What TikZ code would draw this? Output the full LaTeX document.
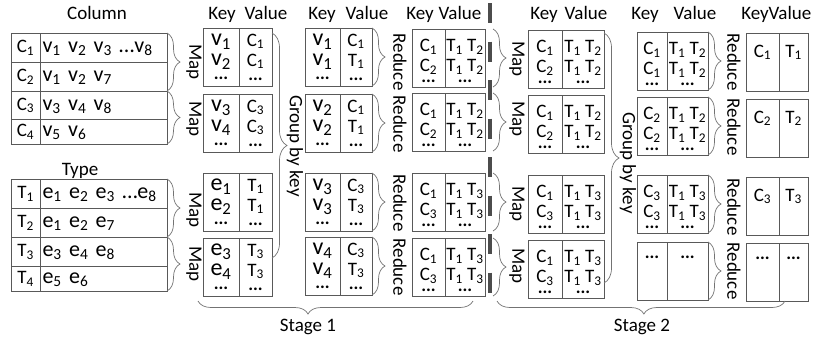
\documentclass[tikz,border=0pt]{standalone}
\usepackage{fontspec}
\setmainfont{Carlito}
\usetikzlibrary{positioning,decorations.pathreplacing}

\newcommand{\sbs}[1]{\textsubscript{#1}}
\newcommand{\dts}{{\fontsize{18}{15}\selectfont\textbf{...}}}
\newcommand{\topgap}{\rule{0pt}{19pt}}

\tikzset{
  cell/.style={draw=black!65, line width=0.9pt, inner sep=0pt, outer sep=0pt, minimum height=58pt, align=center},
  kcell/.style={cell, minimum width=#1, anchor=north west},
  vcell/.style={cell, minimum width=#1},
  big/.style={font=\fontsize{24}{20}\selectfont},
  topcell/.style 2 args={text height=#1, text depth=#2},
  tname/.style={draw=black!65, line width=0.9pt, inner sep=0pt, outer sep=0pt, minimum width=29pt, text height=14pt, text depth=4pt},
  tval/.style={tname, minimum width=0pt, text width=122pt, inner xsep=2.5pt, align=left, font=\fontsize{22}{22}\selectfont},
  brc/.style={decorate, decoration={brace, amplitude=13pt}, draw=black!55, line width=0.7pt},
  gbrc/.style={brc, decoration={amplitude=15pt}},
  sbrc/.style={brc, decoration={aspect=#1}},
  lbl/.style={rotate=-90},
  hdr/.style={anchor=base},
  sep/.style={draw=black!70, line width=3.3pt, dash pattern=on 20pt off 18.5pt},
}

\begin{document}
\begin{tikzpicture}[x=1pt, y=-1pt, font=\fontsize{19}{20}\selectfont]
  \useasboundingbox (0,0) rectangle (840,341);

  % input tables
  \node[hdr] (colhdr) at (97,19) {Column};
  \node[tname, minimum height=29pt, anchor=north west] (col1) at (11,33) {C\sbs1};
  \node[tval, minimum height=29pt, right=0pt of col1] (col1v) {\mbox{v\sbs1 v\sbs2 v\sbs3 \textellipsis v\sbs8}};
  \node[tname, minimum height=29pt, below=0pt of col1] (col2) {C\sbs2};
  \node[tval, minimum height=29pt, right=0pt of col2] (col2v) {v\sbs1 v\sbs2 v\sbs7};
  \node[tname, minimum height=28pt, below=0pt of col2] (col3) {C\sbs3};
  \node[tval, minimum height=28pt, right=0pt of col3] (col3v) {v\sbs3 v\sbs4 v\sbs8};
  \node[tname, minimum height=25pt, below=0pt of col3] (col4) {C\sbs4};
  \node[tval, minimum height=25pt, right=0pt of col4] (col4v) {v\sbs5 v\sbs6};

  \node[hdr] (typhdr) at (80,175) {Type};
  \node[tname, minimum height=29pt, anchor=north west] (typ1) at (11,179) {T\sbs1};
  \node[tval, minimum height=29pt, right=0pt of typ1] (typ1v) {\mbox{e\sbs1 e\sbs2 e\sbs3 \textellipsis e\sbs8}};
  \node[tname, minimum height=29pt, below=0pt of typ1] (typ2) {T\sbs2};
  \node[tval, minimum height=29pt, right=0pt of typ2] (typ2v) {e\sbs1 e\sbs2 e\sbs7};
  \node[tname, minimum height=29pt, below=0pt of typ2] (typ3) {T\sbs3};
  \node[tval, minimum height=29pt, right=0pt of typ3] (typ3v) {e\sbs3 e\sbs4 e\sbs8};
  \node[tname, minimum height=25pt, below=0pt of typ3] (typ4) {T\sbs4};
  \node[tval, minimum height=25pt, right=0pt of typ4] (typ4v) {e\sbs5 e\sbs6};

  % stage 1
  \node[hdr] (akey) at (222,19) {Key};
  \node[hdr] (aval) at (266,19) {Value};
  \node[kcell=36pt, big] (a1k) at (203,28) {v\sbs1\\v\sbs2\\[-6pt]\dts};
  \node[vcell=33pt, right=0pt of a1k] (a1v) {C\sbs1\\C\sbs1\\[-6pt]\dts};
  \node[kcell=36pt, big] (a2k) at (203,94) {v\sbs3\\v\sbs4\\[-6pt]\dts};
  \node[vcell=33pt, right=0pt of a2k] (a2v) {C\sbs3\\C\sbs3\\[-6pt]\dts};
  \node[kcell=36pt, big] (a3k) at (203,173) {e\sbs1\\e\sbs2\\[-6pt]\dts};
  \node[vcell=33pt, right=0pt of a3k] (a3v) {T\sbs1\\T\sbs1\\[-6pt]\dts};
  \node[kcell=36pt, big] (a4k) at (203,238) {e\sbs3\\e\sbs4\\[-6pt]\dts};
  \node[vcell=33pt, right=0pt of a4k] (a4v) {T\sbs3\\T\sbs3\\[-6pt]\dts};

  \node[hdr] (bkey) at (322,19) {Key};
  \node[hdr] (bval) at (367,19) {Value};
  \node[kcell=35pt, big] (b1k) at (305,28) {v\sbs1\\v\sbs1\\[-6pt]\dts};
  \node[vcell=32pt, right=0pt of b1k] (b1v) {C\sbs1\\T\sbs1\\[-6pt]\dts};
  \node[kcell=35pt, big] (b2k) at (305,94) {v\sbs2\\v\sbs2\\[-6pt]\dts};
  \node[vcell=32pt, right=0pt of b2k] (b2v) {C\sbs1\\T\sbs1\\[-6pt]\dts};
  \node[kcell=35pt, big] (b3k) at (305,173) {v\sbs3\\v\sbs3\\[-6pt]\dts};
  \node[vcell=32pt, right=0pt of b3k] (b3v) {C\sbs3\\T\sbs3\\[-6pt]\dts};
  \node[kcell=35pt, big] (b4k) at (305,237) {v\sbs4\\v\sbs4\\[-6pt]\dts};
  \node[vcell=32pt, right=0pt of b4k] (b4v) {C\sbs3\\T\sbs3\\[-6pt]\dts};

  \node[hdr] (ckey) at (420,19) {Key};
  \node[hdr] (cval) at (460,19) {Value};
  \node[kcell=33pt] (c1k) at (412,29) {\topgap C\sbs1\\C\sbs2\\[-9pt]\dts};
  \node[vcell=40pt, right=0pt of c1k] (c1v) {\topgap T\sbs1 T\sbs2\\T\sbs1 T\sbs2\\[-9pt]\dts};
  \node[kcell=33pt] (c2k) at (412,93) {\topgap C\sbs1\\C\sbs2\\[-9pt]\dts};
  \node[vcell=40pt, right=0pt of c2k] (c2v) {\topgap T\sbs1 T\sbs2\\T\sbs1 T\sbs2\\[-9pt]\dts};
  \node[kcell=33pt] (c3k) at (412,173) {\topgap C\sbs1\\C\sbs3\\[-9pt]\dts};
  \node[vcell=40pt, right=0pt of c3k] (c3v) {\topgap T\sbs1 T\sbs3\\T\sbs1 T\sbs3\\[-9pt]\dts};
  \node[kcell=33pt] (c4k) at (412,238) {\topgap C\sbs1\\C\sbs3\\[-9pt]\dts};
  \node[vcell=40pt, right=0pt of c4k] (c4v) {\topgap T\sbs1 T\sbs3\\T\sbs1 T\sbs3\\[-9pt]\dts};

  % stage 2
  \node[hdr] (dkey) at (544,19) {Key};
  \node[hdr] (dval) at (586,19) {Value};
  \node[kcell=34pt] (d1k) at (528,30) {\topgap C\sbs1\\C\sbs2\\[-9pt]\dts};
  \node[vcell=42pt, right=0pt of d1k] (d1v) {\topgap T\sbs1 T\sbs2\\T\sbs1 T\sbs2\\[-9pt]\dts};
  \node[kcell=34pt] (d2k) at (528,95) {\topgap C\sbs1\\C\sbs2\\[-9pt]\dts};
  \node[vcell=42pt, right=0pt of d2k] (d2v) {\topgap T\sbs1 T\sbs2\\T\sbs1 T\sbs2\\[-9pt]\dts};
  \node[kcell=34pt] (d3k) at (528,175) {\topgap C\sbs1\\C\sbs3\\[-9pt]\dts};
  \node[vcell=42pt, right=0pt of d3k] (d3v) {\topgap T\sbs1 T\sbs3\\T\sbs1 T\sbs3\\[-9pt]\dts};
  \node[kcell=34pt] (d4k) at (528,240) {\topgap C\sbs1\\C\sbs3\\[-9pt]\dts};
  \node[vcell=42pt, right=0pt of d4k] (d4v) {\topgap T\sbs1 T\sbs3\\T\sbs1 T\sbs3\\[-9pt]\dts};

  \node[hdr] (ekey) at (645,19) {Key};
  \node[hdr] (eval) at (695,19) {Value};
  \node[kcell=30pt] (e1k) at (637,32) {\topgap C\sbs1\\C\sbs1\\[-9pt]\dts};
  \node[vcell=41pt, right=0pt of e1k] (e1v) {\topgap T\sbs1 T\sbs2\\T\sbs1 T\sbs2\\[-9pt]\dts};
  \node[kcell=30pt] (e2k) at (637,97) {\topgap C\sbs2\\C\sbs2\\[-9pt]\dts};
  \node[vcell=41pt, right=0pt of e2k] (e2v) {\topgap T\sbs1 T\sbs2\\T\sbs1 T\sbs2\\[-9pt]\dts};
  \node[kcell=30pt] (e3k) at (637,175) {\topgap C\sbs3\\C\sbs3\\[-9pt]\dts};
  \node[vcell=41pt, right=0pt of e3k] (e3v) {\topgap T\sbs1 T\sbs3\\T\sbs1 T\sbs3\\[-9pt]\dts};
  \node[kcell=30pt, topcell={16pt}{42pt}] (e4k) at (637,242) {\dts};
  \node[vcell=41pt, topcell={16pt}{42pt}, right=0pt of e4k] (e4v) {\dts};

  \node[hdr] (fkey) at (755,19) {Key};
  \node[hdr] (fval) at (790,19) {Value};
  \node[kcell=33pt, topcell={24pt}{34pt}] (f1k) at (746,33) {C\sbs1};
  \node[vcell=29pt, topcell={24pt}{34pt}, right=0pt of f1k] (f1v) {T\sbs1};
  \node[kcell=33pt, topcell={24pt}{34pt}] (f2k) at (746,99) {C\sbs2};
  \node[vcell=29pt, topcell={24pt}{34pt}, right=0pt of f2k] (f2v) {T\sbs2};
  \node[kcell=33pt, topcell={24pt}{34pt}] (f3k) at (746,177) {C\sbs3};
  \node[vcell=29pt, topcell={24pt}{34pt}, right=0pt of f3k] (f3v) {T\sbs3};
  \node[kcell=33pt, topcell={16pt}{42pt}] (f4k) at (746,243) {\dts};
  \node[vcell=29pt, topcell={16pt}{42pt}, right=0pt of f4k] (f4v) {\dts};

  % braces and labels
  \draw[brc] (col1v.north east) -- (col2v.south east);
  \draw[brc] (col3v.north east) -- (col4v.south east);
  \draw[brc] (typ1v.north east) -- (typ2v.south east);
  \draw[brc] (typ3v.north east) -- (typ4v.south east);
  \node[lbl] (map1) at (194,62) {Map};
  \node[lbl] (map2) at (194,119) {Map};
  \node[lbl] (map3) at (194,210) {Map};
  \node[lbl] (map4) at (194,264) {Map};

  \draw[gbrc] ([yshift=-5pt]a1v.north east) -- ([yshift=38pt]a4v.south east);
  \node[lbl] (grp1) at (295,146) {Group by key};

  \draw[brc] (b1v.north east) -- (b1v.south east);
  \draw[brc] (b2v.north east) -- (b2v.south east);
  \draw[brc] (b3v.north east) -- (b3v.south east);
  \draw[brc] (b4v.north east) -- (b4v.south east);
  \node[lbl] (red1) at (400,62) {Reduce};
  \node[lbl] (red2) at (400,124) {Reduce};
  \node[lbl] (red3) at (400,203) {Reduce};
  \node[lbl] (red4) at (400,267) {Reduce};

  \coordinate (sepT) at (490,3);
  \coordinate (sepB) at (490,293);
  \draw[sep] (sepT) -- (sepB);

  \draw[brc] ([xshift=8pt]c1v.north east) -- ([xshift=8pt]c1v.south east);
  \draw[brc] ([xshift=8pt]c2v.north east) -- ([xshift=8pt]c2v.south east);
  \draw[brc] ([xshift=8pt]c3v.north east) -- ([xshift=8pt]c3v.south east);
  \draw[brc] ([xshift=8pt]c4v.north east) -- ([xshift=8pt]c4v.south east);
  \node[lbl] (map5) at (517,59) {Map};
  \node[lbl] (map6) at (517,119) {Map};
  \node[lbl] (map7) at (517,204) {Map};
  \node[lbl] (map8) at (517,266) {Map};

  \draw[gbrc] ([yshift=-3pt]d1v.north east) -- ([yshift=15pt]d4v.south east);
  \node[lbl] (grp2) at (628,163) {Group by key};

  \draw[brc] (e1v.north east) -- (e1v.south east);
  \draw[brc] (e2v.north east) -- (e2v.south east);
  \draw[brc] (e3v.north east) -- (e3v.south east);
  \draw[brc] (e4v.north east) -- (e4v.south east);
  \node[lbl] (red5) at (734,62) {Reduce};
  \node[lbl] (red6) at (734,127) {Reduce};
  \node[lbl] (red7) at (734,207) {Reduce};
  \node[lbl] (red8) at (734,271) {Reduce};

  \coordinate (st1r) at (473,301);
  \coordinate (st1l) at (198,301);
  \draw[sbrc=0.6] (st1r) -- (st1l);
  \node[hdr] (stage1) at (308,331) {Stage 1};
  \coordinate (st2r) at (785,301);
  \coordinate (st2l) at (497,301);
  \draw[sbrc=0.49] (st2r) -- (st2l);
  \node[hdr] (stage2) at (642,331) {Stage 2};
\end{tikzpicture}
\end{document}
